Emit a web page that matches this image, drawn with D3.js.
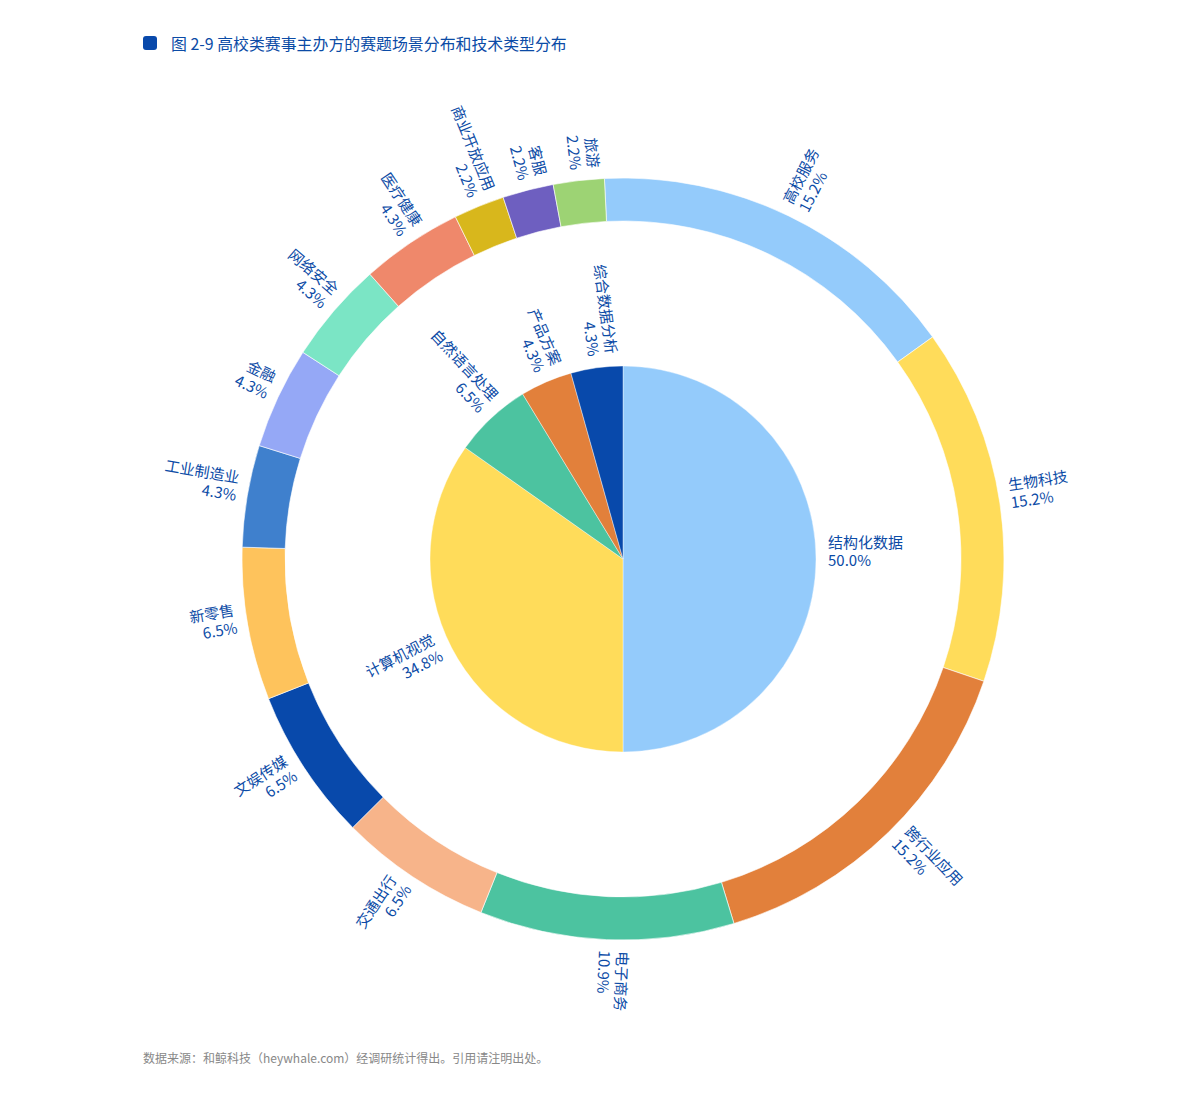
<!DOCTYPE html>
<html>
<head>
<meta charset="utf-8">
<script src="https://cdn.jsdelivr.net/npm/d3@7/dist/d3.min.js"></script>
<style>
  html, body { margin: 0; padding: 0; background: #ffffff; }
  svg { display: block; font-family: "Noto Sans CJK SC", "Noto Sans", sans-serif; }
</style>
</head>
<body>
<svg id="chart" width="1191" height="1095"></svg>
<script>
// ---- data ----
const scenarioNames = ["高校服务", "生物科技", "跨行业应用", "电子商务", "交通出行", "文娱传媒", "新零售",
  "工业制造业", "金融", "网络安全", "医疗健康", "商业开放应用", "客服", "旅游"];
const scenarioCounts = [7, 7, 7, 5, 3, 3, 3, 2, 2, 2, 2, 1, 1, 1];
const scenarioLabels = ["15.2%", "15.2%", "15.2%", "10.9%", "6.5%", "6.5%", "6.5%",
  "4.3%", "4.3%", "4.3%", "4.3%", "2.2%", "2.2%", "2.2%"];
const scenarioColors = ["#94cbfb", "#ffdc5a", "#e2803b", "#4cc3a0", "#f7b48a", "#0849ab", "#fec35c",
  "#3f80cd", "#95a8f6", "#7be5c5", "#ef886b", "#d8b71c", "#6e5fc0", "#9dd374"];

const techNames = ["结构化数据", "计算机视觉", "自然语言处理", "产品方案", "综合数据分析"];
const techCounts = [23, 16, 3, 2, 2];
const techLabels = ["50.0%", "34.8%", "6.5%", "4.3%", "4.3%"];
const techColors = ["#94cbfb", "#ffdc5a", "#4cc3a0", "#e2803b", "#0849ab"];

const titleText = "图 2-9 高校类赛事主办方的赛题场景分布和技术类型分布";
const sourceText = "数据来源：和鲸科技（heywhale.com）经调研统计得出。引用请注明出处。";

// ---- layout ----
const svg = d3.select("#chart");
const cx = 623, cy = 559;
const ringInner = 338, ringOuter = 381;
const pieRadius = 193;
const labelColor = "#0b4ba6";
const lineH = 18;
const deg2rad = Math.PI / 180;

// title
svg.append("rect").attr("x", 143).attr("y", 36).attr("width", 14).attr("height", 14)
  .attr("rx", 3).attr("fill", "#0849ab");
svg.append("text").attr("x", 171).attr("y", 43).attr("dominant-baseline", "central")
  .attr("font-size", 15.9).attr("fill", "#0b4ba6").text(titleText);

// source
svg.append("text").attr("x", 143).attr("y", 1057).attr("dominant-baseline", "central")
  .attr("font-size", 12).attr("fill", "#888888").text(sourceText);

const g = svg.append("g").attr("transform", `translate(${cx},${cy})`);

function drawLabels(group, arcs, names, pcts, r) {
  arcs.forEach((d, i) => {
    const mid = (d.startAngle + d.endAngle) / 2;
    const deg = mid / deg2rad;
    let rot = deg - 90;
    let anchor = "start";
    if (deg > 182.5 && deg < 360) { rot -= 180; anchor = "end"; }
    const x = r * Math.sin(mid), y = -r * Math.cos(mid);
    const t = group.append("text")
      .attr("transform", `translate(${x},${y}) rotate(${rot})`)
      .attr("text-anchor", anchor)
      .attr("dominant-baseline", "central")
      .attr("font-size", 15)
      .attr("fill", labelColor);
    t.append("tspan").attr("x", 0).attr("y", -lineH).text(names[i]);
    t.append("tspan").attr("x", 0).attr("y", 0).text(pcts[i]);
  });
}

// outer ring
const ringEnd = 357.2 * deg2rad;
const ringPie = d3.pie().sort(null).value(d => d)
  .startAngle(0).endAngle(ringEnd);
const ringArcs = ringPie(scenarioCounts);
const ringArc = d3.arc().innerRadius(ringInner).outerRadius(ringOuter);
g.selectAll("path.ring").data(ringArcs).enter().append("path")
  .attr("class", "ring")
  .attr("d", (d, i) => i === 0 ? ringArc({...d, startAngle: ringEnd - 2 * Math.PI}) : ringArc(d))
  .attr("fill", (d, i) => scenarioColors[i])
  .attr("stroke", "#ffffff").attr("stroke-width", 0.6);
drawLabels(g, ringArcs, scenarioNames, scenarioLabels, ringOuter + 11);

// inner pie
const techPie = d3.pie().sort(null).value(d => d);
const techArcs = techPie(techCounts);
const techArc = d3.arc().innerRadius(0).outerRadius(pieRadius);
g.selectAll("path.tech").data(techArcs).enter().append("path")
  .attr("class", "tech")
  .attr("d", techArc)
  .attr("fill", (d, i) => techColors[i])
  .attr("stroke", "#ffffff").attr("stroke-width", 0.4);
drawLabels(g, techArcs, techNames, techLabels, pieRadius + 12);
</script>
</body>
</html>
